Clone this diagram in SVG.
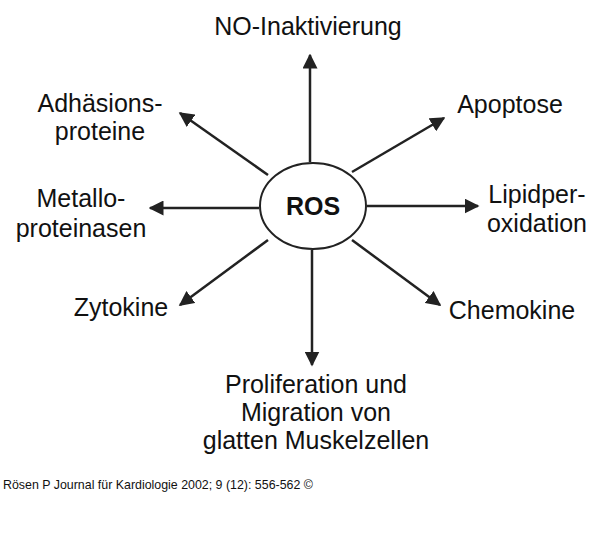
<svg xmlns="http://www.w3.org/2000/svg" width="600" height="533" viewBox="0 0 600 533">
<style>
text{font-family:"Liberation Sans",Arial,sans-serif;fill:#111}
.l{font-size:25px}
.c line{stroke:#222;stroke-width:2.5;marker-end:url(#a)}
</style>
<defs><marker id="a" viewBox="0 0 10 10" refX="9" refY="5" markerWidth="6" markerHeight="6" orient="auto" markerUnits="strokeWidth"><path d="M0,0L10,5L0,10z" fill="#222"/></marker></defs>
<rect width="600" height="533" fill="#fff"/>
<g id="ros"><ellipse cx="313" cy="206" rx="53" ry="43" fill="#fff" stroke="#222" stroke-width="2"/><text x="313" y="215" text-anchor="middle" font-size="25" font-weight="bold">ROS</text></g>
<g class="c">
<line x1="310" y1="162" x2="310" y2="55"/>
<line x1="352" y1="172" x2="444" y2="118"/>
<line x1="367" y1="206" x2="478" y2="206"/>
<line x1="352" y1="240" x2="440" y2="305"/>
<line x1="312" y1="250" x2="312" y2="365"/>
<line x1="268" y1="240" x2="180" y2="305"/>
<line x1="259" y1="208" x2="150" y2="208"/>
<line x1="268" y1="175" x2="180" y2="113"/>
</g>
<g id="n1"><text class="l" x="308" y="35" text-anchor="middle">NO-Inaktivierung</text></g>
<g id="n2"><text class="l" x="510" y="113" text-anchor="middle">Apoptose</text></g>
<g id="n3"><text class="l" x="537" y="203" text-anchor="middle">Lipidper-</text><text class="l" x="537" y="232" text-anchor="middle">oxidation</text></g>
<g id="n4"><text class="l" x="512" y="319" text-anchor="middle">Chemokine</text></g>
<g id="n5"><text class="l" x="316" y="393" text-anchor="middle">Proliferation und</text><text class="l" x="316" y="421" text-anchor="middle">Migration von</text><text class="l" x="316" y="449" text-anchor="middle">glatten Muskelzellen</text></g>
<g id="n6"><text class="l" x="121" y="316" text-anchor="middle">Zytokine</text></g>
<g id="n7"><text class="l" x="81" y="207" text-anchor="middle">Metallo-</text><text class="l" x="81" y="237" text-anchor="middle">proteinasen</text></g>
<g id="n8"><text class="l" x="100" y="112" text-anchor="middle">Adhäsions-</text><text class="l" x="100" y="140" text-anchor="middle">proteine</text></g>
<text x="3" y="489" font-size="12.4">Rösen P Journal für Kardiologie 2002; 9 (12): 556-562 ©</text>
</svg>
